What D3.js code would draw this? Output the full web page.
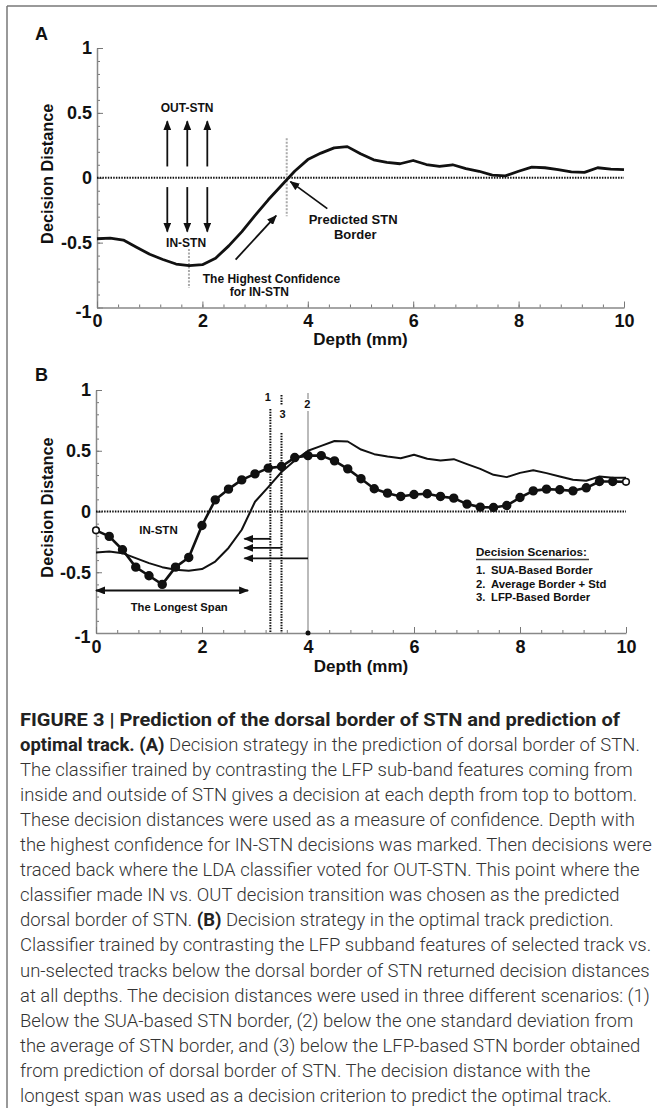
<!DOCTYPE html>
<html lang="en">
<head>
<meta charset="utf-8">
<title>Figure 3 - STN border and optimal track</title>
<script src="https://cdnjs.cloudflare.com/ajax/libs/d3/7.8.5/d3.min.js"></script>
<style>
  body { margin: 0; background: #fff; }
  svg text { font-family: "Liberation Sans", Arial, sans-serif; }
  .caption text { font-family: Roboto, "Liberation Sans", sans-serif; }
</style>
</head>
<body>
<svg id="fig" width="657" height="1112"></svg>
<script>
// depth samples (mm), shared by both panels
var depth = [0, 0.25, 0.5, 0.75, 1, 1.25, 1.5, 1.75, 2, 2.25, 2.5, 2.75, 3, 3.25, 3.5, 3.75, 4, 4.25, 4.5, 4.75,
             5, 5.25, 5.5, 5.75, 6, 6.25, 6.5, 6.75, 7, 7.25, 7.5, 7.75, 8, 8.25, 8.5, 8.75, 9, 9.25, 9.5, 9.75, 10];
// panel A: decision distance, dorsal border classifier
var distA = [-0.47, -0.465, -0.48, -0.535, -0.59, -0.63, -0.665, -0.678, -0.67, -0.62, -0.525, -0.415, -0.29, -0.17,
             -0.06, 0.05, 0.14, 0.19, 0.23, 0.24, 0.185, 0.138, 0.118, 0.108, 0.133, 0.102, 0.087, 0.1, 0.07, 0.05,
             0.02, 0.015, 0.05, 0.082, 0.077, 0.063, 0.045, 0.041, 0.077, 0.067, 0.062];
// panel B: plain line
var distBline = [-0.337, -0.33, -0.343, -0.384, -0.425, -0.458, -0.48, -0.488, -0.474, -0.412, -0.3, -0.15, 0.08,
                 0.2, 0.325, 0.42, 0.5, 0.54, 0.58, 0.576, 0.51, 0.472, 0.453, 0.439, 0.467, 0.434, 0.42, 0.431,
                 0.39, 0.351, 0.302, 0.283, 0.318, 0.34, 0.316, 0.288, 0.261, 0.253, 0.288, 0.277, 0.277];
// panel B: line with markers
var distBdots = [-0.155, -0.205, -0.315, -0.458, -0.529, -0.6, -0.458, -0.378, -0.115, 0.096, 0.184, 0.26, 0.31,
                 0.357, 0.37, 0.444, 0.46, 0.46, 0.417, 0.351, 0.27, 0.187, 0.151, 0.124, 0.14, 0.146, 0.124, 0.11,
                 0.061, 0.036, 0.033, 0.049, 0.115, 0.17, 0.184, 0.179, 0.17, 0.195, 0.247, 0.247, 0.244];

var xTicks = [0, 2, 4, 6, 8, 10];
var yTicks = [1, 0.5, 0, -0.5, -1];

// border depths in panel B (scenario number, depth)
var borderNames = ["1", "3", "2"];
var borderDepths = [3.29, 3.5, 4.0];
var arrowLevels = [-0.225, -0.3, -0.385];

var scenarioNums = ["1.", "2.", "3."];
var scenarioNames = ["SUA-Based Border", "Average Border + Std", "LFP-Based Border"];

var caption = [
  [["FIGURE 3 | Prediction of the dorsal border of STN and prediction of", 1]],
  [["optimal track. (A)", 1], [" Decision strategy in the prediction of dorsal border of STN.", 0]],
  [["The classifier trained by contrasting the LFP sub-band features coming from", 0]],
  [["inside and outside of STN gives a decision at each depth from top to bottom.", 0]],
  [["These decision distances were used as a measure of confidence. Depth with", 0]],
  [["the highest confidence for IN-STN decisions was marked. Then decisions were", 0]],
  [["traced back where the LDA classifier voted for OUT-STN. This point where the", 0]],
  [["classifier made IN vs. OUT decision transition was chosen as the predicted", 0]],
  [["dorsal border of STN. ", 0], ["(B)", 1], [" Decision strategy in the optimal track prediction.", 0]],
  [["Classifier trained by contrasting the LFP subband features of selected track vs.", 0]],
  [["un-selected tracks below the dorsal border of STN returned decision distances", 0]],
  [["at all depths. The decision distances were used in three different scenarios: (1)", 0]],
  [["Below the SUA-based STN border, (2) below the one standard deviation from", 0]],
  [["the average of STN border, and (3) below the LFP-based STN border obtained", 0]],
  [["from prediction of dorsal border of STN. The decision distance with the", 0]],
  [["longest span was used as a decision criterion to predict the optimal track.", 0]]
];

var svg = d3.select("#fig");

// arrow head
var defs = svg.append("defs");
defs.append("marker").attr("id", "head")
  .attr("markerUnits", "userSpaceOnUse")
  .attr("viewBox", "0 0 10 8").attr("markerWidth", 10).attr("markerHeight", 8)
  .attr("refX", 9).attr("refY", 4).attr("orient", "auto-start-reverse")
  .append("path").attr("d", "M0,0 L10,4 L0,8 Z").attr("fill", "#111");

// outer frame (top and left edges)
svg.append("line").attr("x1", 7).attr("y1", 6).attr("x2", 657).attr("y2", 6)
  .attr("stroke", "#777").attr("stroke-width", 1.5);
svg.append("line").attr("x1", 7).attr("y1", 6).attr("x2", 7).attr("y2", 1108)
  .attr("stroke", "#777").attr("stroke-width", 1.5);

function drawAxes(g, x, y, letter, letterY, titleY) {
  // minor ticks
  g.append("g").attr("transform", "translate(" + x(0) + ",0)")
    .call(d3.axisLeft(y).tickValues(d3.range(-10, 11).map(function(i) { return i / 10; }))
      .tickSize(-3).tickFormat(""))
    .call(function(s) { s.select(".domain").remove(); s.selectAll("line").attr("stroke", "#777"); });
  g.append("g").attr("transform", "translate(0," + y(-1) + ")")
    .call(d3.axisBottom(x).tickValues(d3.range(0, 26).map(function(i) { return i * 0.4; }))
      .tickSize(-3).tickFormat(""))
    .call(function(s) { s.select(".domain").remove(); s.selectAll("line").attr("stroke", "#777"); });

  var ya = g.append("g").attr("transform", "translate(" + x(0) + ",0)")
    .call(d3.axisLeft(y).tickValues(yTicks).tickSizeInner(-6).tickSizeOuter(0).tickPadding(5)
      .tickFormat(function(d) { return d === 0.5 ? "0.5" : d === -0.5 ? "-0.5" : String(d); }));
  ya.select(".domain").attr("stroke", "#888").attr("stroke-width", 1.5);
  ya.selectAll("line").attr("stroke", "#777");
  ya.selectAll("text").attr("font-size", 18).attr("font-weight", "bold").attr("fill", "#111")
    .attr("font-family", "'Liberation Sans', Arial, sans-serif");
  // Tecplot-style: the -1 label sits just below the corner
  ya.selectAll(".tick").filter(function(d) { return d === -1; }).select("text")
    .attr("x", -5.5).attr("dy", "0.55em");

  var xa = g.append("g").attr("transform", "translate(0," + y(-1) + ")")
    .call(d3.axisBottom(x).tickValues(xTicks).tickSizeInner(-6).tickSizeOuter(0).tickPadding(7));
  xa.select(".domain").attr("stroke", "#888").attr("stroke-width", 1.5);
  xa.selectAll("line").attr("stroke", "#777");
  xa.selectAll("text").attr("font-size", 18).attr("font-weight", "bold").attr("fill", "#111")
    .attr("font-family", "'Liberation Sans', Arial, sans-serif");

  g.append("text").attr("x", x(5)).attr("y", titleY).attr("text-anchor", "middle")
    .attr("font-size", 17).attr("font-weight", "bold").attr("fill", "#111").text("Depth (mm)");
  g.append("text").attr("transform", "translate(53," + (y(0) - 4) + ") rotate(-90)")
    .attr("text-anchor", "middle").attr("font-size", 16.3).attr("font-weight", "bold")
    .attr("fill", "#111").text("Decision Distance");
  g.append("text").attr("x", 35).attr("y", letterY).attr("font-size", 18).attr("font-weight", "bold")
    .attr("fill", "#111").text(letter);

  // zero line
  g.append("line").attr("x1", x(0)).attr("x2", x(10)).attr("y1", y(0)).attr("y2", y(0))
    .attr("stroke", "#111").attr("stroke-width", 2).attr("stroke-dasharray", "1.5,1.2");
}

function label(g, x, y, d, v, txt, size) {
  return g.append("text").attr("x", x(d)).attr("y", y(v)).attr("dy", "0.35em")
    .attr("text-anchor", "middle").attr("font-size", size).attr("font-weight", "bold")
    .attr("fill", "#111").text(txt);
}
function arrow(g, x, y, d1, v1, d2, v2, w) {
  return g.append("line").attr("x1", x(d1)).attr("y1", y(v1)).attr("x2", x(d2)).attr("y2", y(v2))
    .attr("stroke", "#111").attr("stroke-width", w || 1.8).attr("marker-end", "url(#head)");
}

// ---------------- Panel A ----------------
var xA = d3.scaleLinear().domain([0, 10]).range([97, 624]);
var yA = d3.scaleLinear().domain([-1, 1]).range([307.5, 48]);
var gA = svg.append("g");
drawAxes(gA, xA, yA, "A", 40, 345);

// gray guide marks
gA.append("line").attr("x1", xA(1.745)).attr("x2", xA(1.745)).attr("y1", yA(-0.55)).attr("y2", yA(-0.85))
  .attr("stroke", "#aaa").attr("stroke-width", 2).attr("stroke-dasharray", "2,1.5");
gA.append("line").attr("x1", xA(3.6)).attr("x2", xA(3.6)).attr("y1", yA(0.305)).attr("y2", yA(-0.297))
  .attr("stroke", "#aaa").attr("stroke-width", 2).attr("stroke-dasharray", "2,1.5");

gA.append("path").datum(depth)
  .attr("d", d3.line().x(function(d) { return xA(d); }).y(function(d, i) { return yA(distA[i]); }))
  .attr("fill", "none").attr("stroke", "#111").attr("stroke-width", 2.8).attr("stroke-linejoin", "round");

[1.334, 1.713, 2.093].forEach(function(d) {
  arrow(gA, xA, yA, d, 0.087, d, 0.435);
  arrow(gA, xA, yA, d, -0.072, d, -0.415);
});
label(gA, xA, yA, 1.71, 0.536, "OUT-STN", 12);
label(gA, xA, yA, 1.69, -0.5, "IN-STN", 12);
arrow(gA, xA, yA, 4.37, -0.238, 3.67, -0.03);
label(gA, xA, yA, 4.86, -0.323, "Predicted STN", 13);
label(gA, xA, yA, 4.9, -0.44, "Border", 13);
arrow(gA, xA, yA, 2.63, -0.631, 3.4, -0.292);
label(gA, xA, yA, 3.31, -0.78, "The Highest Confidence", 12);
label(gA, xA, yA, 3.08, -0.882, "for IN-STN", 12);

// ---------------- Panel B ----------------
var xB = d3.scaleLinear().domain([0, 10]).range([96, 626]);
var yB = d3.scaleLinear().domain([-1, 1]).range([633, 390]);
var gB = svg.append("g");
drawAxes(gB, xB, yB, "B", 381, 672);

// border markers
borderDepths.forEach(function(d, i) {
  var px = xB(d);
  if (borderNames[i] === "2") {
    gB.append("line").attr("x1", px).attr("x2", px).attr("y1", 393).attr("y2", 399)
      .attr("stroke", "#bbb").attr("stroke-width", 2);
    gB.append("line").attr("x1", px).attr("x2", px).attr("y1", 411).attr("y2", yB(-1))
      .attr("stroke", "#bbb").attr("stroke-width", 2);
    gB.append("circle").attr("cx", px).attr("cy", yB(-1)).attr("r", 2.5).attr("fill", "#111");
    label(gB, xB, yB, d, yB.invert(404), "2", 11).attr("x", px - 0.7);
  } else if (borderNames[i] === "3") {
    gB.append("line").attr("x1", px).attr("x2", px).attr("y1", 395).attr("y2", 405)
      .attr("stroke", "#111").attr("stroke-width", 2).attr("stroke-dasharray", "1.5,1.2");
    gB.append("line").attr("x1", px).attr("x2", px).attr("y1", 433).attr("y2", yB(-1))
      .attr("stroke", "#111").attr("stroke-width", 2).attr("stroke-dasharray", "1.5,1.2");
    label(gB, xB, yB, d, yB.invert(414.5), "3", 11).attr("x", px + 1);
  } else {
    gB.append("line").attr("x1", px).attr("x2", px).attr("y1", 409).attr("y2", yB(-1))
      .attr("stroke", "#111").attr("stroke-width", 2).attr("stroke-dasharray", "1.5,1.2");
    label(gB, xB, yB, d, yB.invert(397.5), "1", 11).attr("x", px - 2.6);
  }
  arrow(gB, xB, yB, d, arrowLevels[i], 2.8, arrowLevels[i], 1.8);
});

var lineB = function(vals) {
  return d3.line().x(function(d) { return xB(d); }).y(function(d, i) { return yB(vals[i]); });
};
gB.append("path").datum(depth).attr("d", lineB(distBline))
  .attr("fill", "none").attr("stroke", "#111").attr("stroke-width", 2).attr("stroke-linejoin", "round");
gB.append("path").datum(depth).attr("d", lineB(distBdots))
  .attr("fill", "none").attr("stroke", "#111").attr("stroke-width", 2.6).attr("stroke-linejoin", "round");
gB.selectAll("circle.pt").data(depth).enter().append("circle").attr("class", "pt")
  .attr("cx", function(d) { return xB(d); })
  .attr("cy", function(d, i) { return yB(distBdots[i]); })
  .attr("r", function(d, i) { return (i === 0 || i === depth.length - 1) ? 3.3 : 3.9; })
  .attr("fill", function(d, i) { return (i === 0 || i === depth.length - 1) ? "#fff" : "#111"; })
  .attr("stroke", "#111").attr("stroke-width", 1.6);

label(gB, xB, yB, 1.18, -0.156, "IN-STN", 11.5);
gB.append("line").attr("x1", xB(0)).attr("x2", xB(2.87)).attr("y1", yB(-0.65)).attr("y2", yB(-0.65))
  .attr("stroke", "#111").attr("stroke-width", 1.8)
  .attr("marker-start", "url(#head)").attr("marker-end", "url(#head)");
label(gB, xB, yB, 1.57, -0.79, "The Longest Span", 11.2);

// scenario legend
var lg = gB.append("g").attr("transform", "translate(476,556)");
lg.append("text").attr("x", 0).attr("y", 0).attr("font-size", 11.6).attr("font-weight", "bold")
  .attr("fill", "#111").text("Decision Scenarios:");
lg.append("line").attr("x1", 0).attr("x2", 113).attr("y1", 3.5).attr("y2", 3.5)
  .attr("stroke", "#444").attr("stroke-width", 1.3);
scenarioNames.forEach(function(s, i) {
  lg.append("text").attr("x", 0).attr("y", 18 + i * 13.6).attr("font-size", 11.3).attr("font-weight", "bold")
    .attr("fill", "#111").text(scenarioNums[i]);
  lg.append("text").attr("x", 15).attr("y", 18 + i * 13.6).attr("font-size", 11.3).attr("font-weight", "bold")
    .attr("fill", "#111").text(s);
});

// ---------------- Caption ----------------
var cap = svg.append("g").attr("class", "caption").attr("font-size", 17);
var rows = cap.selectAll("text").data(caption).enter().append("text")
  .attr("x", 20).attr("y", function(d, i) { return 726 + i * 25.05; })
  .attr("fill", "#333").attr("font-weight", 300);
rows.selectAll("tspan").data(function(d) { return d; }).enter().append("tspan")
  .attr("font-weight", function(d) { return d[1] ? 700 : 300; })
  .attr("fill", function(d) { return d[1] ? "#222" : "#333"; })
  .text(function(d) { return d[0]; });
// fit the block so the widest plain line reaches the right margin
var ref = rows.nodes()[10].getComputedTextLength();
cap.attr("font-size", 17 * 630 / ref);
// the bold title line runs a bit wider in the original
rows.filter(function(d, i) { return i === 0; })
  .attr("textLength", 600).attr("lengthAdjust", "spacingAndGlyphs");
</script>
</body>
</html>
